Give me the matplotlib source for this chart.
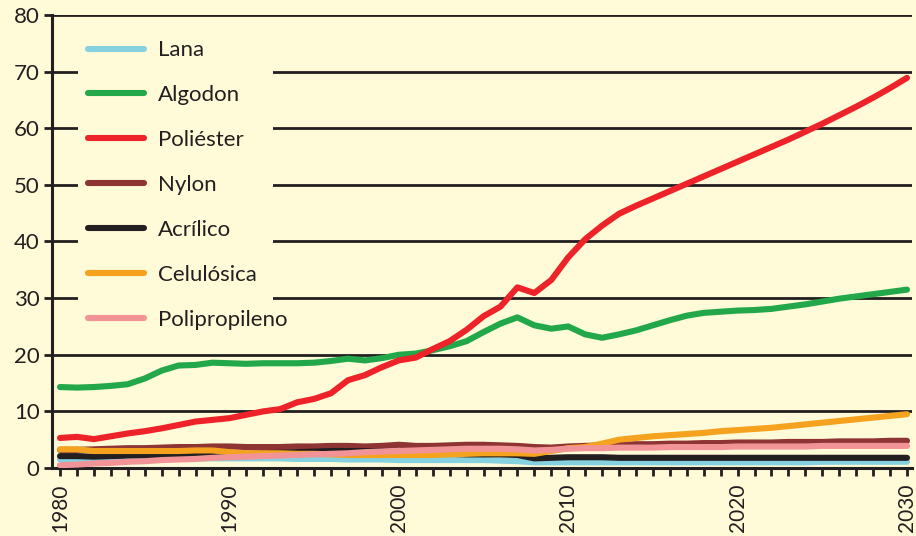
import matplotlib
matplotlib.use("Agg")
import matplotlib.pyplot as plt
from matplotlib.patches import Rectangle

# --- data (one value per year) ---
years = list(range(1980, 2031))

lana = [1.5, 1.5, 1.5, 1.6, 1.6, 1.6, 1.6, 1.7, 1.7, 1.7,
        1.7, 1.7, 1.7, 1.7, 1.6, 1.6, 1.6, 1.5, 1.5, 1.5,
        1.4, 1.4, 1.4, 1.4, 1.4, 1.4, 1.3, 1.2, 1.0, 1.0,
        1.0, 1.0, 1.0, 1.0, 1.0, 1.0, 1.0, 1.0, 1.0, 1.0,
        1.0, 1.0, 1.0, 1.0, 1.0, 1.1, 1.1, 1.1, 1.1, 1.1, 1.1]

algodon = [14.3, 14.2, 14.3, 14.5, 14.8, 15.8, 17.2, 18.1, 18.2, 18.6,
           18.5, 18.4, 18.5, 18.5, 18.5, 18.6, 18.9, 19.3, 19.0, 19.4,
           20.0, 20.2, 20.8, 21.5, 22.4, 24.0, 25.5, 26.6, 25.2, 24.6,
           25.0, 23.6, 23.0, 23.6, 24.3, 25.2, 26.1, 26.9, 27.4, 27.6,
           27.8, 27.9, 28.1, 28.5, 28.9, 29.4, 29.9, 30.3, 30.7, 31.1, 31.5]

poliester = [5.3, 5.5, 5.1, 5.6, 6.1, 6.5, 7.0, 7.6, 8.2, 8.5,
             8.8, 9.4, 10.0, 10.4, 11.6, 12.2, 13.2, 15.5, 16.4, 17.8,
             19.0, 19.5, 21.0, 22.4, 24.4, 26.8, 28.5, 31.9, 30.9, 33.2,
             37.2, 40.4, 42.8, 44.9, 46.3, 47.6, 48.9, 50.2, 51.5, 52.8,
             54.1, 55.4, 56.7, 58.0, 59.4, 60.8, 62.3, 63.8, 65.4, 67.1, 68.9]

nylon = [3.2, 3.2, 3.3, 3.4, 3.5, 3.5, 3.6, 3.7, 3.7, 3.8,
         3.8, 3.7, 3.7, 3.7, 3.8, 3.8, 3.9, 3.9, 3.8, 3.9,
         4.1, 3.9, 3.9, 4.0, 4.1, 4.1, 4.0, 3.9, 3.7, 3.6,
         3.8, 3.9, 4.0, 4.1, 4.2, 4.2, 4.3, 4.3, 4.4, 4.4,
         4.5, 4.5, 4.5, 4.6, 4.6, 4.6, 4.7, 4.7, 4.7, 4.8, 4.8]

acrilico = [2.1, 2.1, 2.0, 2.1, 2.2, 2.2, 2.2, 2.2, 2.3, 2.3,
            2.4, 2.5, 2.6, 2.7, 2.8, 2.9, 3.0, 3.0, 3.0, 2.9,
            2.8, 2.7, 2.6, 2.5, 2.4, 2.4, 2.4, 2.3, 1.7, 1.8,
            1.9, 1.9, 1.9, 1.8, 1.8, 1.8, 1.8, 1.8, 1.8, 1.8,
            1.8, 1.8, 1.8, 1.8, 1.8, 1.8, 1.8, 1.8, 1.8, 1.8, 1.8]

celulosica = [3.3, 3.3, 3.0, 3.0, 3.0, 3.0, 3.0, 3.0, 3.1, 3.1,
              2.8, 2.6, 2.6, 2.6, 2.5, 2.5, 2.4, 2.3, 2.3, 2.3,
              2.3, 2.3, 2.3, 2.4, 2.5, 2.6, 2.6, 2.6, 2.5, 3.0,
              3.5, 3.7, 4.3, 5.0, 5.3, 5.6, 5.8, 6.0, 6.2, 6.5,
              6.7, 6.9, 7.1, 7.4, 7.7, 8.0, 8.3, 8.6, 8.9, 9.2, 9.5]

polipropileno = [0.5, 0.6, 0.8, 0.9, 1.1, 1.2, 1.4, 1.5, 1.6, 1.8,
                 1.9, 2.0, 2.1, 2.2, 2.3, 2.4, 2.5, 2.6, 2.8, 2.9,
                 3.0, 3.1, 3.2, 3.3, 3.4, 3.4, 3.4, 3.3, 3.1, 3.2,
                 3.4, 3.5, 3.5, 3.6, 3.6, 3.6, 3.7, 3.7, 3.7, 3.7,
                 3.8, 3.8, 3.8, 3.8, 3.8, 3.9, 3.9, 3.9, 3.9, 3.9, 3.9]

labels = ["Lana", "Algodon", "Poliéster", "Nylon", "Acrílico", "Celulósica", "Polipropileno"]
colors = ["#86d1e0", "#22a84a", "#ee2229", "#8e3434", "#231f20", "#f5a21f", "#f29497"]
y_ticks = [0, 10, 20, 30, 40, 50, 60, 70, 80]
x_labels = [1980, 1990, 2000, 2010, 2020, 2030]

BG = "#fffad7"
INK = "#231f20"

plt.rcParams["font.family"] = ["Lato", "DejaVu Sans"]

fig = plt.figure(figsize=(9.16, 5.36), dpi=100, facecolor=BG)
ax = fig.add_axes([52 / 916, 1 - 468 / 536, 860 / 916, 453 / 536], facecolor=BG)

series = [lana, algodon, poliester, nylon, acrilico, celulosica, polipropileno]
for vals, lab, col in zip(series, labels, colors):
    ax.plot(years, vals, color=col, lw=4.4, label=lab, solid_capstyle="round",
            solid_joinstyle="round", zorder=3)

ax.set_xlim(1980 - 8 / 16.94, 2030 + 5 / 16.94)
ax.set_ylim(0, 80)

# axes styling
for s in ["top", "right"]:
    ax.spines[s].set_visible(False)
for s in ["left", "bottom"]:
    ax.spines[s].set_color(INK)
    ax.spines[s].set_linewidth(2.2)

ax.set_yticks(y_ticks)
ax.set_xticks(x_labels)
ax.set_xticks(years, minor=True)
ax.set_xticklabels([str(x) for x in x_labels], rotation=90, va="top", ha="center")
ax.tick_params(axis="y", length=6, width=2, color=INK, labelsize=16, labelcolor=INK, pad=3)
ax.tick_params(axis="x", which="both", length=5.5, width=2, color=INK, labelsize=15,
               labelcolor=INK, pad=6)

ax.set_axisbelow(True)
ax.yaxis.grid(True, color=INK, lw=2)

# background block behind the legend (hides the grid there)
ax.add_patch(Rectangle((26 / 860, 128 / 453), 195 / 860, 315 / 453, transform=ax.transAxes,
                       facecolor=BG, edgecolor="none", zorder=1.5))

leg = ax.legend(loc="upper left", bbox_to_anchor=(36 / 860, 0.944), frameon=False,
                fontsize=16, handlelength=2.5, handletextpad=0.65, labelspacing=1.12,
                borderpad=0, borderaxespad=0)
for t in leg.get_texts():
    t.set_color(INK)
for h in leg.get_lines():
    h.set_linewidth(4.4)
    h.set_solid_capstyle("round")

fig.savefig("out.png", dpi=100, facecolor=BG)
